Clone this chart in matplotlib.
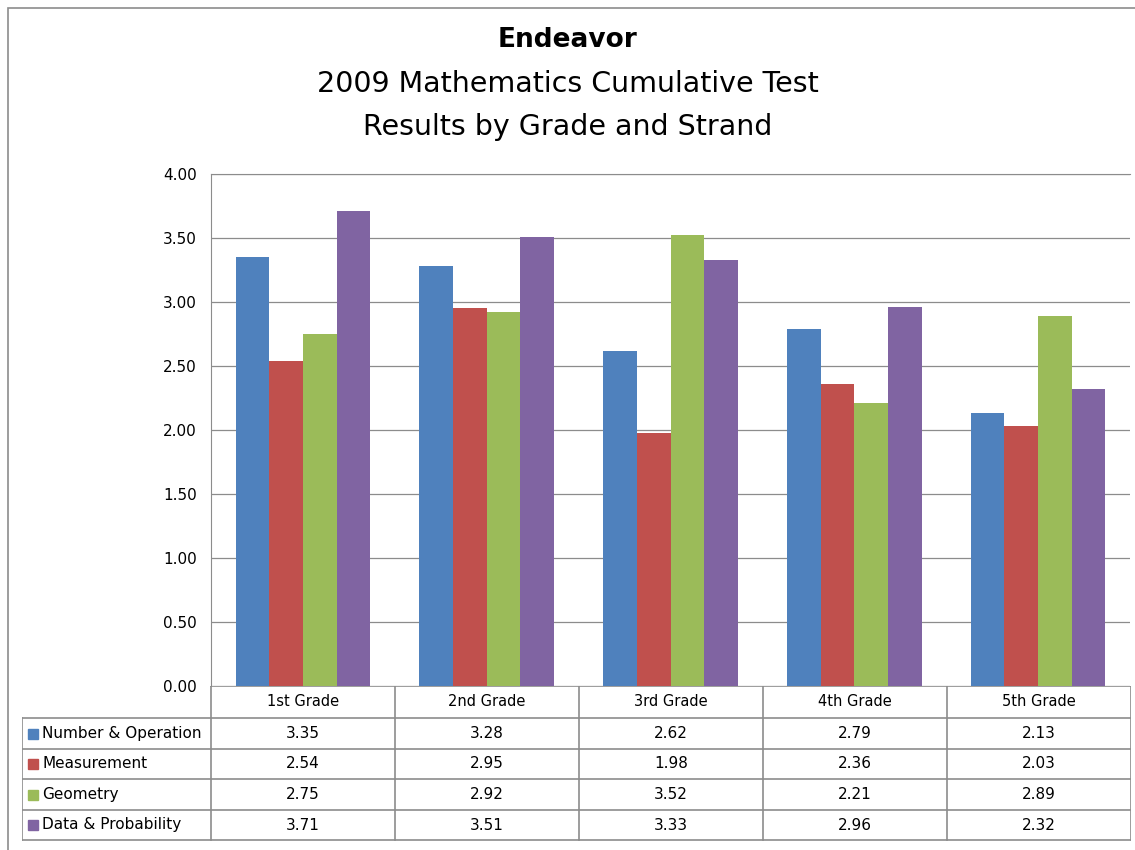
import matplotlib.pyplot as plt
import matplotlib.patches as patches
import numpy as np

grades = ['1st Grade', '2nd Grade', '3rd Grade', '4th Grade', '5th Grade']
strands = ['Number & Operation', 'Measurement', 'Geometry', 'Data & Probability']
number_operation = [3.35, 3.28, 2.62, 2.79, 2.13]
measurement = [2.54, 2.95, 1.98, 2.36, 2.03]
geometry = [2.75, 2.92, 3.52, 2.21, 2.89]
data_probability = [3.71, 3.51, 3.33, 2.96, 2.32]
colors = ['#4F81BD', '#C0504D', '#9BBB59', '#8064A2']

series = [number_operation, measurement, geometry, data_probability]

W, H = 1135, 850
plt.rcParams['font.family'] = ['DejaVu Sans']
fig = plt.figure(figsize=(W / 100, H / 100), dpi=100)

def px(x0, y0, x1, y1):
    return [x0 / W, 1 - y1 / H, (x1 - x0) / W, (y1 - y0) / H]

# outer chart border (right and bottom run off the image)
fig.patches.append(patches.Rectangle((8 / W, -0.1), 2, 1.1 - 8 / H, transform=fig.transFigure,
                                     fill=False, edgecolor='#8c8c8c', linewidth=1.2))

# titles
fig.text(0.5, 1 - 40 / H, 'Endeavor', ha='center', va='center', fontsize=19, fontweight='bold')
fig.text(0.5, 1 - 84 / H, '2009 Mathematics Cumulative Test', ha='center', va='center', fontsize=20.5)
fig.text(0.5, 1 - 127 / H, 'Results by Grade and Strand', ha='center', va='center', fontsize=20.5)

# bar chart
ax = fig.add_axes(px(211, 174, 1130, 686))
x = np.arange(len(grades))
bw = 0.183
for i, (vals, c) in enumerate(zip(series, colors)):
    ax.bar(x + (i - 1.5) * bw, vals, bw, color=c, zorder=3)
ax.set_xlim(-0.5, len(grades) - 0.5)
ax.set_ylim(0, 4)
ax.set_yticks(np.arange(0, 4.01, 0.5))
ax.set_yticklabels([f'{v:.2f}' for v in np.arange(0, 4.01, 0.5)], fontsize=11)
ax.set_xticks([])
ax.grid(axis='y', color='#8c8c8c', linewidth=0.9, zorder=0)
for s in ['right', 'bottom']:
    ax.spines[s].set_visible(False)
ax.spines['left'].set_color('#8c8c8c')
ax.spines['top'].set_color('#8c8c8c')
ax.tick_params(axis='y', length=0, pad=10)

# data table
tx = fig.add_axes(px(22, 686, 1131, 841))
lab_left = -0.5 - 189 / 183.8
tx.set_xlim(lab_left, len(grades) - 0.5)
tx.set_ylim(841, 686)
tx.axis('off')
gray = '#8c8c8c'
row_edges = [686, 718, 749, 779, 810, 840]
# horizontal lines
tx.plot([-0.5, len(grades) - 0.5], [686, 686], color=gray, lw=1.2)
for yy in row_edges[1:]:
    tx.plot([lab_left, len(grades) - 0.5], [yy, yy], color=gray, lw=1.2)
# vertical lines
tx.plot([lab_left, lab_left], [718, 840], color=gray, lw=1.2)
for k in range(len(grades) + 1):
    tx.plot([k - 0.5, k - 0.5], [686, 840], color=gray, lw=1.2)
# header
for k, g in enumerate(grades):
    tx.text(k, (686 + 718) / 2, g, ha='center', va='center', fontsize=10.5)
# rows
for r, (name, vals, c) in enumerate(zip(strands, series, colors)):
    yc = (row_edges[r + 1] + row_edges[r + 2]) / 2
    tx.add_patch(patches.Rectangle((lab_left + 0.03, yc - 5), 0.055, 10, color=c))
    tx.text(lab_left + 0.11, yc, name, ha='left', va='center', fontsize=11)
    for k, v in enumerate(vals):
        tx.text(k, yc, f'{v:.2f}', ha='center', va='center', fontsize=11)

fig.savefig('out.png', dpi=100)
